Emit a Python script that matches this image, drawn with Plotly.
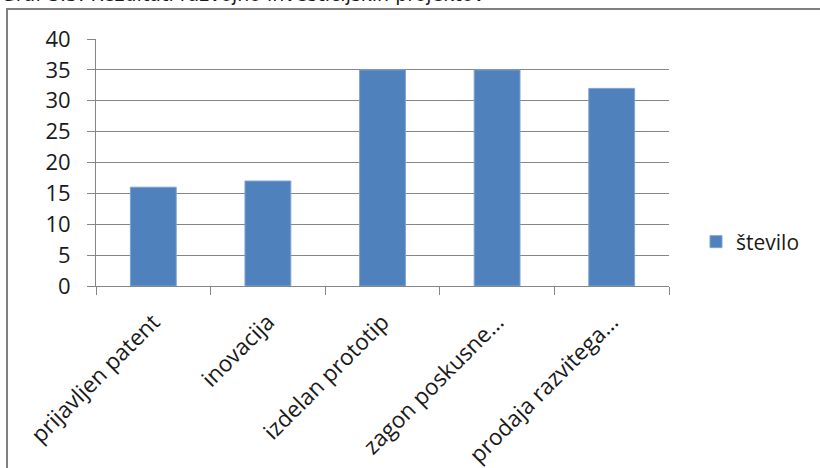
import plotly.graph_objects as go

categories = ["prijavljen patent", "inovacija", "izdelan prototip", "zagon poskusne…", "prodaja razvitega…"]
values = [16, 17, 35, 35, 32]
series_name = "število"
y_ticks = [0, 5, 10, 15, 20, 25, 30, 35, 40]

W, H = 820, 468
L, R, T, B = 96, 669, 39, 286  # plot area pixels
pw, ph = R - L, B - T

def px(x):
    return (x - L) / pw

def py(y):
    return (B - y) / ph

font = "Open Sans, sans-serif"

fig = go.Figure()
fig.add_trace(go.Bar(
    x=categories, y=values, name=series_name,
    marker=dict(color="#4F81BD", line=dict(color="#7FA3D2", width=1)),
    width=0.4,
))

fig.update_layout(
    width=W, height=H,
    margin=dict(l=L, r=W - R, t=T, b=H - B),
    paper_bgcolor="white", plot_bgcolor="white",
    font=dict(family=font, size=21, color="#1a1a1a"),
    showlegend=True,
    legend=dict(x=px(696), y=py(242), xanchor="left", yanchor="middle",
                font=dict(size=21), itemwidth=30, bgcolor="rgba(0,0,0,0)"),
    xaxis=dict(
        type="category", tickson="boundaries", ticks="outside", ticklen=8,
        tickcolor="#868686", showline=True, linecolor="#868686", linewidth=1,
        tickangle=-45, showgrid=False, range=[-0.5, 4.5],
        ticklabelstandoff=13, automargin=False, tickfont=dict(size=22.5),
    ),
    yaxis=dict(
        range=[0, 40], tickvals=y_ticks, ticks="outside", ticklen=8,
        tickcolor="#868686", showline=True, linecolor="#868686", linewidth=1,
        showgrid=True, gridcolor="#868686", gridwidth=1, zeroline=False,
        ticklabelstandoff=12, automargin=False, tickfont=dict(size=22),
    ),
    shapes=[dict(type="rect", xref="paper", yref="paper",
                 x0=px(7), x1=px(840), y0=py(9), y1=py(490),
                 line=dict(color="#808080", width=2), fillcolor="rgba(0,0,0,0)")],
    annotations=[dict(text="Graf 3.5: Rezultati razvojno investicijskih projektov",
                      xref="paper", yref="paper", x=px(-1), y=py(7),
                      xanchor="left", yanchor="bottom", showarrow=False,
                      font=dict(size=19, family="DejaVu Sans", color="#1a1a1a"))],
)

fig.write_html("out.html", config={"displayModeBar": False},
               post_script="document.body.style.margin='0';document.body.style.overflow='hidden';")
